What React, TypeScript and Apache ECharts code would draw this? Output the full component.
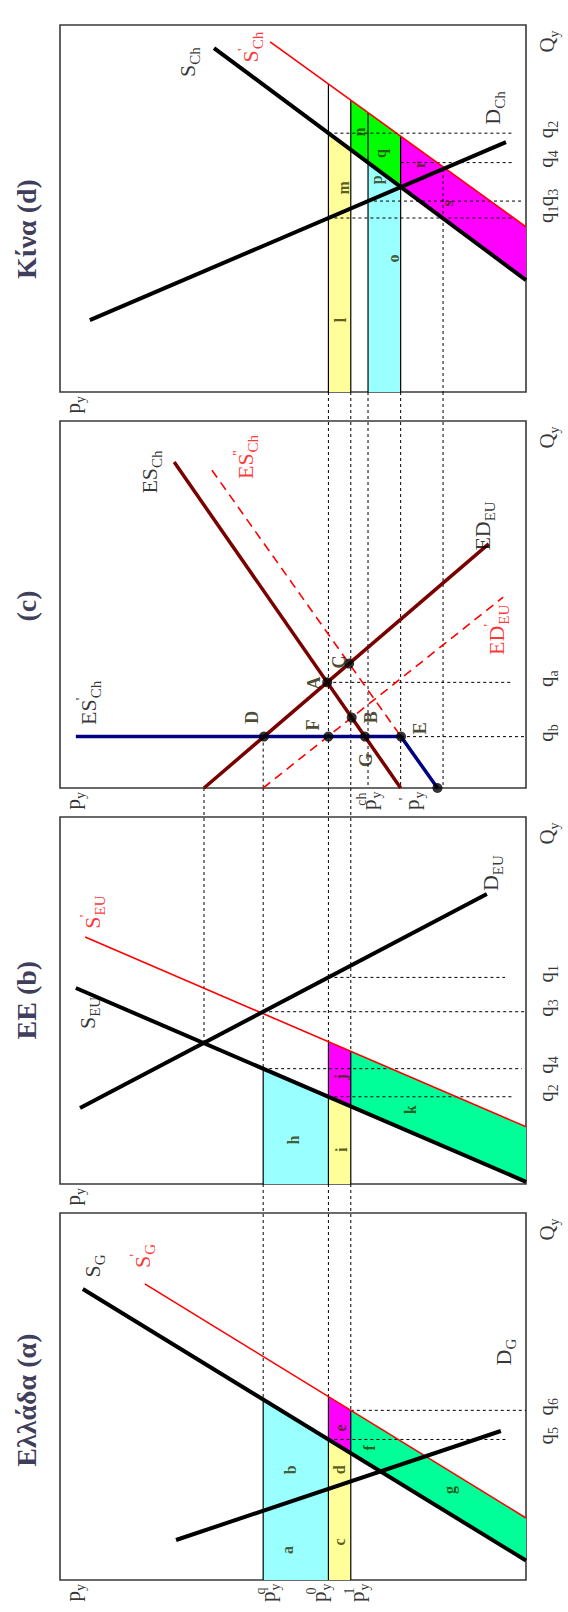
import React, { useEffect, useRef } from "react";
import * as echarts from "echarts";

type Pt = [number, number];
type Seg = [Pt, Pt];

// Price levels shared by the four panels (price runs leftwards from the origin)
const P_EU = 69.1; // EU price without trade
const P_Q = 56.4; // p_y^q
const P_0 = 42.4; // p_y^0
const P_1 = 37.6; // p_y^1
const P_CH = 33.9; // p_y^ch
const P_CH_AUT = 26.9; // p'_y
const P_LOW = 17.8;

// (d) China: supply, shifted supply, demand  [price, quantity]
const S_CH: Seg = [[66.95, 93.7], [0, 30.5]];
const S_CH_NEW: Seg = [[54.9, 95.4], [0, 45.0]];
const D_CH: Seg = [[93.6, 19.6], [4.3, 68.1]];

// (c) excess supply of China and excess demand of the EU
const ES_CH: Seg = [[P_CH_AUT, 0], [75.5, 88.8]];
const ES_CH_NEW: Seg = [[67.4, 86.6], [19.0, 0]];
const ED_EU: Seg = [[P_EU, 0], [8.0, 66.5]];
const ED_EU_NEW: Seg = [[P_Q, 0], [4.9, 52.0]];
const QUOTA_Q = 14.0;
const QUOTA_FROM_P = 96.6;

// (b) EU
const S_EU: Seg = [[96.6, 53.4], [0, 0.6]];
const S_EU_NEW: Seg = [[94.6, 67.3], [0, 15.6]];
const D_EU: Seg = [[95.7, 20.7], [8.4, 79.0]];

// (a) Greece
const S_GR: Seg = [[95.1, 79.3], [0, 5.3]];
const S_GR_NEW: Seg = [[81.8, 80.7], [0, 16.9]];
const D_GR: Seg = [[75.1, 10.9], [5.4, 40.6]];

const TITLES = ["Κίνα (d)", "(c)", "EE (b)", "Ελλάδα (α)"];

// layout
const GRID_LEFT = 60;
const GRID_W = 466;
const GRID_H = 367;
const GRID_TOP0 = 25;
const PITCH = 396;
const ABOVE = (100 * PITCH) / GRID_H; // bottom edge of the panel above, in local quantity units

const SERIF = '"Liberation Serif", "DejaVu Serif", serif';
const BLACK = "#000000";
const RED = "#ff0000";
const BROWN = "#7a0000";
const NAVY = "#000080";
const CYAN = "#99ffff";
const YELLOW = "#ffff99";
const MAGENTA = "#ff00ff";
const GREEN = "#00ff00";
const MINT = "#00ff99";

const qAt = (s: Seg, p: number) =>
  s[0][1] + ((s[1][1] - s[0][1]) * (p - s[0][0])) / (s[1][0] - s[0][0]);

const meet = (a: Seg, b: Seg): Pt => {
  const [[x1, y1], [x2, y2]] = a;
  const [[x3, y3], [x4, y4]] = b;
  const d = (x1 - x2) * (y3 - y4) - (y1 - y2) * (x3 - x4);
  const t = ((x1 - x3) * (y3 - y4) - (y1 - y3) * (x3 - x4)) / d;
  return [x1 + t * (x2 - x1), y1 + t * (y2 - y1)];
};

const level = (q: number): Seg => [[0, q], [100, q]];

type Part = ["m" | "s" | "u", string];
interface TextStyle {
  size: number;
  sub: number;
  color: string;
  weight: string;
}
const CURVE: TextStyle = { size: 22, sub: 15, color: BLACK, weight: "normal" };
const CURVE_RED: TextStyle = { ...CURVE, color: RED };
const AXIS: TextStyle = { size: 21, sub: 14, color: BLACK, weight: "normal" };
const TITLE: TextStyle = { size: 28, sub: 18, color: "#0a0a30", weight: "bold" };
const POINT: TextStyle = { size: 18, sub: 12, color: "#1a1a00", weight: "bold" };
const AREA: TextStyle = { size: 16, sub: 11, color: "#303000", weight: "bold" };

function buildOption() {
  const series: any[] = [];
  const ids = [0, 1, 2, 3];

  const path = (g: number, pts: Pt[], color: string, width: number, dash: any = "solid", z = 4) =>
    series.push({
      type: "line",
      xAxisIndex: g,
      yAxisIndex: g,
      data: pts,
      symbol: "none",
      clip: false,
      silent: true,
      z,
      lineStyle: { color, width, type: dash },
    });
  const guide = (g: number, a: Pt, b: Pt) => path(g, [a, b], BLACK, 1, [3, 3], 3);
  const edge = (g: number, a: Pt, b: Pt) => path(g, [a, b], BLACK, 1.2, "solid", 2);

  const area = (g: number, pts: Pt[], color: string) =>
    series.push({
      type: "custom",
      coordinateSystem: "cartesian2d",
      xAxisIndex: g,
      yAxisIndex: g,
      silent: true,
      z: 1,
      data: [[0, 0]],
      renderItem: (_params: any, api: any) => ({
        type: "polygon",
        shape: { points: pts.map((p) => api.coord(p)) },
        style: { fill: color, stroke: "none" },
      }),
    });
  const band = (g: number, pa: number, pb: number, lo: Seg | null, hi: Seg, color: string) =>
    area(
      g,
      [
        [pa, lo ? qAt(lo, pa) : 0],
        [pb, lo ? qAt(lo, pb) : 0],
        [pb, qAt(hi, pb)],
        [pa, qAt(hi, pa)],
      ],
      color
    );

  const dots = (g: number, pts: Pt[]) =>
    series.push({
      type: "scatter",
      xAxisIndex: g,
      yAxisIndex: g,
      data: pts,
      symbol: "circle",
      symbolSize: 10,
      itemStyle: { color: BLACK },
      silent: true,
      clip: false,
      z: 5,
    });

  // rotated label; a superscript followed by a subscript is stacked over it
  const txt = (g: number, p: number, q: number, parts: Part[], st: TextStyle) => {
    const rich: any = {};
    let fmt = "";
    const lh = st.size + 8;
    parts.forEach(([k, t], i) => {
      const key = k + i;
      const fs = k === "m" ? st.size : st.sub;
      const stacked = k === "u" && parts[i + 1] && parts[i + 1][0] === "s";
      rich[key] = {
        fontSize: fs,
        fontFamily: SERIF,
        fontWeight: st.weight,
        color: st.color,
        lineHeight: k === "m" ? lh : fs,
        verticalAlign: k === "m" ? "middle" : k === "s" ? "bottom" : "top",
        ...(stacked ? { width: 1 } : {}),
      };
      fmt += `{${key}|${t}}`;
    });
    series.push({
      type: "scatter",
      xAxisIndex: g,
      yAxisIndex: g,
      data: [[p, q]],
      symbol: "circle",
      symbolSize: 1,
      itemStyle: { color: "rgba(0,0,0,0)" },
      silent: true,
      clip: false,
      z: 6,
      label: {
        show: true,
        position: "inside",
        rotate: 90,
        align: "center",
        verticalAlign: "middle",
        formatter: () => fmt,
        rich,
      },
    });
  };

  const Q_LABEL_P = -4.3;
  const P_LABEL_Q = -3.5;
  const qLabel = (g: number, q: number, idx: string) =>
    txt(g, Q_LABEL_P, q + 1, [["m", "q"], ["s", idx]], AXIS);
  const pLabel = (g: number, p: number, sup: string | null) =>
    txt(g, p, P_LABEL_Q, sup ? [["m", "p"], ["u", sup], ["s", "y"]] : [["m", "p"], ["s", "y"]], AXIS);

  // common frame texts
  const titleQ = [44.4, 49.6, 50.1, 49.0];
  ids.forEach((g) => {
    txt(g, 107.1, titleQ[g], [["m", TITLES[g]]], TITLE);
    txt(g, -4.5, 95.5, [["m", "Q"], ["s", "y"]], AXIS);
    pLabel(g, 97.2, null);
  });

  // ---------- (d) China ----------
  {
    const g = 0;
    band(g, P_0, P_1, null, S_CH, YELLOW);
    band(g, P_1, P_CH_AUT, S_CH, S_CH_NEW, GREEN);
    band(g, P_CH, P_CH_AUT, null, S_CH, CYAN);
    band(g, P_CH_AUT, 0, S_CH, S_CH_NEW, MAGENTA);
    [P_0, P_1, P_CH, P_CH_AUT].forEach((p) => edge(g, [p, qAt(S_CH_NEW, p)], [p, 0]));

    const q1 = qAt(D_CH, P_0);
    const q3 = qAt(D_CH, P_CH);
    const q4 = qAt(S_CH, P_CH);
    const q2 = qAt(S_CH, P_0);
    guide(g, [P_LOW, qAt(D_CH, P_LOW)], [P_LOW, 0]);
    guide(g, [P_0, q2], [2.5, q2]);
    guide(g, [P_CH_AUT, q4], [2.5, q4]);
    guide(g, [P_CH, q3], [1, q3]);
    guide(g, [P_0, q1], [2.5, q1]);

    path(g, S_CH_NEW, RED, 1.6);
    path(g, S_CH, BLACK, 4);
    path(g, D_CH, BLACK, 4);

    txt(g, 72.7, 89.9, [["m", "S"], ["s", "Ch"]], CURVE);
    txt(g, 59.2, 94.0, [["m", "S"], ["u", "'"], ["s", "Ch"]], CURVE_RED);
    txt(g, 7.1, 77.4, [["m", "D"], ["s", "Ch"]], CURVE);
    const areaTags: [string, number, number][] = [
      ["l", 39.9, 19.6],
      ["m", 39.1, 55.6],
      ["n", 35.8, 70.8],
      ["q", 31.2, 65.0],
      ["p", 32.0, 57.8],
      ["o", 28.5, 36.4],
      ["r", 22.8, 61.9],
      ["s", 16.8, 51.4],
    ];
    areaTags.forEach(([t, p, q]) => txt(g, p, q, [["m", t]], AREA));
    qLabel(g, q2, "2");
    qLabel(g, q4, "4");
    qLabel(g, q3, "3");
    qLabel(g, q1, "1");
  }

  // ---------- (c) trade between China and the EU ----------
  {
    const g = 1;
    const quota = level(QUOTA_Q);
    const A = meet(ES_CH, ED_EU);
    const B = meet(ES_CH, ED_EU_NEW);
    const C = meet(ES_CH_NEW, ED_EU);
    const D = meet(ED_EU, quota);
    const F: Pt = [P_0, QUOTA_Q];
    const G = meet(ES_CH, quota);
    const E = meet(ES_CH_NEW, quota);
    const end = ES_CH_NEW[1];

    [P_0, P_1, P_CH, P_CH_AUT, P_LOW].forEach((p) => guide(g, [p, ABOVE], [p, 0]));
    guide(g, [P_Q, QUOTA_Q], [P_Q, 0]);
    guide(g, A, [3.2, A[1]]);
    guide(g, E, [0.4, QUOTA_Q]);

    path(g, ES_CH_NEW, RED, 1.6, [9, 6]);
    path(g, ED_EU_NEW, RED, 1.6, [9, 6]);
    path(g, ES_CH, BROWN, 3.5);
    path(g, ED_EU, BROWN, 3.5);
    path(g, [[QUOTA_FROM_P, QUOTA_Q], E, end], NAVY, 3.5);
    dots(g, [A, B, C, D, F, G, E, end]);

    txt(g, 80.7, 86.1, [["m", "ES"], ["s", "Ch"]], CURVE);
    txt(g, 60.1, 90.2, [["m", "ES"], ["u", "''"], ["s", "Ch"]], CURVE_RED);
    txt(g, 9.4, 71.4, [["m", "ED"], ["s", "EU"]], CURVE);
    txt(g, 6.4, 43.1, [["m", "ED"], ["u", "'"], ["s", "EU"]], CURVE_RED);
    txt(g, 93.8, 23.2, [["m", "ES"], ["u", "'"], ["s", "Ch"]], CURVE);
    const pointTags: [string, number, number][] = [
      ["D", 58.8, 19.3],
      ["F", 45.7, 17.2],
      ["A", 45.4, 28.6],
      ["C", 40.1, 34.3],
      ["B", 33.3, 19.3],
      ["G", 34.3, 7.6],
      ["E", 22.7, 16.3],
    ];
    pointTags.forEach(([t, p, q]) => txt(g, p, q, [["m", t]], POINT));
    qLabel(g, A[1], "a");
    qLabel(g, QUOTA_Q, "b");
    pLabel(g, P_CH - 0.3, "ch");
    pLabel(g, P_CH_AUT - 2.5, "'");
  }

  // ---------- (b) EU ----------
  {
    const g = 2;
    band(g, P_Q, P_0, null, S_EU, CYAN);
    band(g, P_0, P_1, null, S_EU, YELLOW);
    band(g, P_0, P_1, S_EU, S_EU_NEW, MAGENTA);
    band(g, P_1, 0, S_EU, S_EU_NEW, MINT);
    edge(g, [P_Q, qAt(S_EU, P_Q)], [P_Q, 0]);
    edge(g, [P_0, qAt(S_EU_NEW, P_0)], [P_0, 0]);
    edge(g, [P_1, qAt(S_EU_NEW, P_1)], [P_1, 0]);

    const eq = meet(S_EU, D_EU);
    guide(g, [P_EU, ABOVE], [P_EU, eq[1]]);
    guide(g, [P_Q, ABOVE], [P_Q, qAt(S_EU, P_Q)]);
    guide(g, [P_0, ABOVE], [P_0, qAt(S_EU_NEW, P_0)]);
    guide(g, [P_1, ABOVE], [P_1, qAt(S_EU_NEW, P_1)]);
    const q3 = qAt(D_EU, P_Q);
    const q1 = qAt(D_EU, P_0);
    const q4 = qAt(S_EU, P_Q);
    const q2 = qAt(S_EU, P_0);
    guide(g, [P_Q, q3], [0, q3]);
    guide(g, [P_0, q1], [4.5, q1]);
    guide(g, [P_Q, q4], [0.9, q4]);
    guide(g, [P_0, q2], [2.8, q2]);

    path(g, S_EU_NEW, RED, 1.6);
    path(g, S_EU, BLACK, 4);
    path(g, D_EU, BLACK, 4);

    txt(g, 94.0, 46.6, [["m", "S"], ["s", "EU"]], CURVE);
    txt(g, 93.1, 74.1, [["m", "S"], ["u", "'"], ["s", "EU"]], CURVE_RED);
    txt(g, 7.7, 84.7, [["m", "D"], ["s", "EU"]], CURVE);
    const areaTags: [string, number, number][] = [
      ["h", 50.0, 12.0],
      ["i", 39.5, 9.3],
      ["j", 39.9, 29.2],
      ["k", 24.7, 20.2],
    ];
    areaTags.forEach(([t, p, q]) => txt(g, p, q, [["m", t]], AREA));
    qLabel(g, q1, "1");
    qLabel(g, q3, "3");
    qLabel(g, q4, "4");
    qLabel(g, q2, "2");
  }

  // ---------- (a) Greece ----------
  {
    const g = 3;
    band(g, P_Q, P_0, null, S_GR, CYAN);
    band(g, P_0, P_1, null, S_GR, YELLOW);
    band(g, P_0, P_1, S_GR, S_GR_NEW, MAGENTA);
    band(g, P_1, 0, S_GR, S_GR_NEW, MINT);
    edge(g, [P_Q, qAt(S_GR, P_Q)], [P_Q, 0]);
    edge(g, [P_0, qAt(S_GR_NEW, P_0)], [P_0, 0]);
    edge(g, [P_1, qAt(S_GR_NEW, P_1)], [P_1, 0]);

    guide(g, [P_Q, ABOVE], [P_Q, qAt(S_GR, P_Q)]);
    guide(g, [P_0, ABOVE], [P_0, qAt(S_GR_NEW, P_0)]);
    guide(g, [P_1, ABOVE], [P_1, qAt(S_GR_NEW, P_1)]);
    const q6 = qAt(S_GR_NEW, P_1);
    const q5 = qAt(S_GR, P_0);
    guide(g, [P_1, q6], [0, q6]);
    guide(g, [P_0, q5], [3.9, q5]);

    path(g, S_GR_NEW, RED, 1.6);
    path(g, S_GR, BLACK, 4);
    path(g, D_GR, BLACK, 4);

    txt(g, 93.1, 85.6, [["m", "S"], ["s", "G"]], CURVE);
    txt(g, 82.2, 88.3, [["m", "S"], ["u", "'"], ["s", "G"]], CURVE_RED);
    txt(g, 4.9, 62.1, [["m", "D"], ["s", "G"]], CURVE);
    const areaTags: [string, number, number][] = [
      ["a", 51.1, 8.2],
      ["b", 50.6, 30.0],
      ["c", 40.1, 10.4],
      ["d", 40.1, 30.0],
      ["e", 39.9, 41.4],
      ["f", 33.5, 36.0],
      ["g", 16.5, 24.5],
    ];
    areaTags.forEach(([t, p, q]) => txt(g, p, q, [["m", t]], AREA));
    qLabel(g, q6, "6");
    qLabel(g, q5, "5");
    pLabel(g, P_Q - 1, "q");
    pLabel(g, P_0 + 2, "0");
    pLabel(g, P_1 - 1.3, "1");
  }

  return {
    animation: false,
    backgroundColor: "#ffffff",
    grid: ids.map((i) => ({
      left: GRID_LEFT,
      top: GRID_TOP0 + i * PITCH,
      width: GRID_W,
      height: GRID_H,
      show: true,
      borderColor: "#3a3a3a",
      borderWidth: 1.6,
      backgroundColor: "transparent",
      containLabel: false,
    })),
    xAxis: ids.map((i) => ({
      type: "value",
      gridIndex: i,
      min: 0,
      max: 100,
      inverse: true,
      show: false,
    })),
    yAxis: ids.map((i) => ({
      type: "value",
      gridIndex: i,
      min: 0,
      max: 100,
      show: false,
    })),
    series,
  };
}

export default function App() {
  const ref = useRef<HTMLDivElement>(null);
  useEffect(() => {
    if (!ref.current) return;
    const chart = echarts.init(ref.current, null, { renderer: "svg" });
    chart.setOption(buildOption() as any);
    return () => chart.dispose();
  }, []);
  return (
    <div
      ref={ref}
      style={{ position: "absolute", left: 0, top: 0, width: 568, height: 1612, background: "#fff" }}
    />
  );
}
